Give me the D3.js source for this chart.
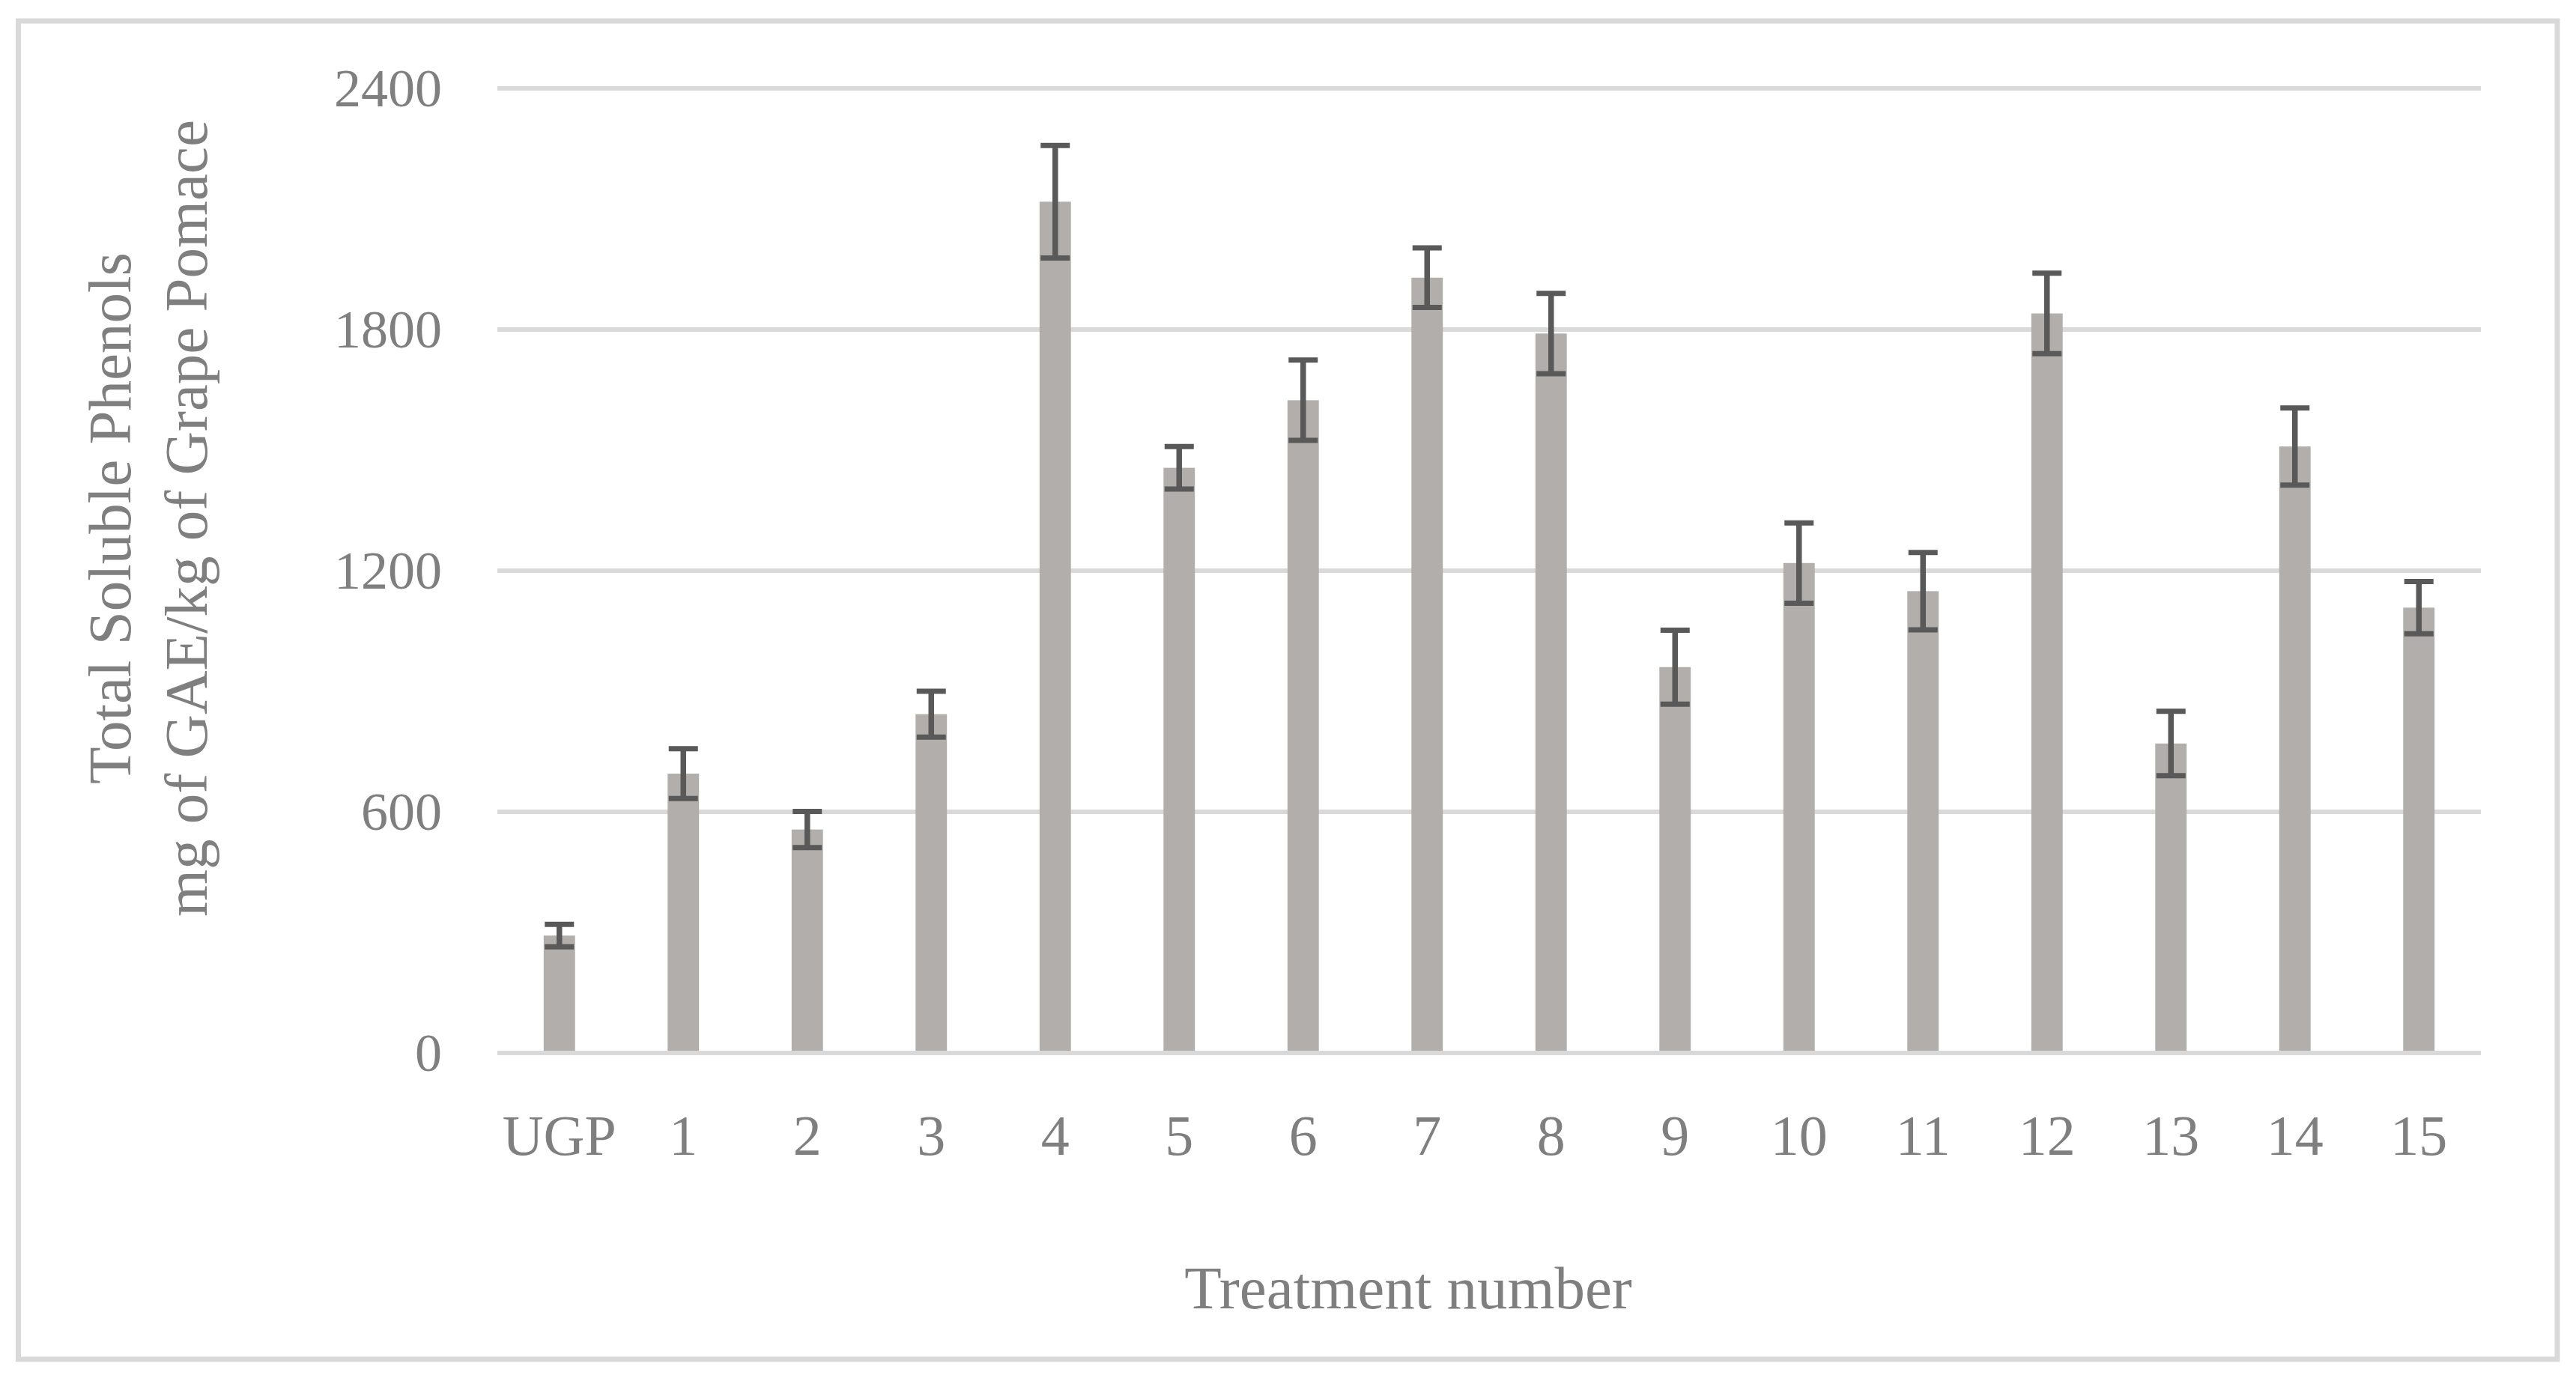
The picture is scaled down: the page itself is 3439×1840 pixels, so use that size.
<!DOCTYPE html>
<html>
<head>
<meta charset="utf-8">
<script src="https://cdn.jsdelivr.net/npm/d3@7/dist/d3.min.js"></script>
<style>
  html, body { margin: 0; padding: 0; background: #ffffff; }
  svg { display: block; }
  text { font-family: "Liberation Serif", "DejaVu Serif", serif; fill: #7f7f7f; }
</style>
</head>
<body>
<svg id="chart" width="3439" height="1840"></svg>
<script>
// ---- data ----
const categories = ["UGP", "1", "2", "3", "4", "5", "6", "7", "8", "9", "10", "11", "12", "13", "14", "15"];
const values = [292, 695, 556, 843, 2118, 1456, 1624, 1929, 1790, 960, 1219, 1149, 1840, 770, 1509, 1108];
const errors = [28, 62, 45, 57, 140, 53, 100, 74, 100, 92, 100, 96, 100, 80, 96, 65];
const yTicks = [0, 600, 1200, 1800, 2400];
const yTitleLines = ["Total Soluble Phenols", "mg of GAE/kg of Grape Pomace"];
const xTitle = "Treatment number";

// ---- layout ----
const W = 3439, H = 1840;
const plot = { left: 664, right: 3312, top: 118, bottom: 1406 };

const svg = d3.select("#chart");

// outer border
svg.append("rect")
  .attr("x", 24.5).attr("y", 28)
  .attr("width", 3414 - 24.5).attr("height", 1815 - 28)
  .attr("fill", "#ffffff")
  .attr("stroke", "#d9d9d9").attr("stroke-width", 7);

const x = d3.scaleBand().domain(categories).range([plot.left, plot.right]).paddingInner(0.747).paddingOuter(0.3735);
const y = d3.scaleLinear().domain([0, 2400]).range([plot.bottom, plot.top]);

// gridlines (excluding zero)
svg.append("g").selectAll("line")
  .data(yTicks.filter(d => d !== 0))
  .join("line")
  .attr("x1", plot.left).attr("x2", plot.right)
  .attr("y1", d => y(d)).attr("y2", d => y(d))
  .attr("stroke", "#d9d9d9").attr("stroke-width", 6);

// bars
svg.append("g").selectAll("rect")
  .data(categories)
  .join("rect")
  .attr("x", d => x(d))
  .attr("width", x.bandwidth())
  .attr("y", (d, i) => y(values[i]))
  .attr("height", (d, i) => y(0) - y(values[i]))
  .attr("fill", "#b1aeac");

// zero axis line
svg.append("line")
  .attr("x1", plot.left).attr("x2", plot.right)
  .attr("y1", y(0)).attr("y2", y(0))
  .attr("stroke", "#d9d9d9").attr("stroke-width", 6);

// error bars
const eb = svg.append("g").attr("stroke", "#595959");
categories.forEach((c, i) => {
  const cx = x(c) + x.bandwidth() / 2;
  const hi = y(values[i] + errors[i]);
  const lo = y(values[i] - errors[i]);
  const capW = 39;
  eb.append("line").attr("x1", cx).attr("x2", cx).attr("y1", hi).attr("y2", lo).attr("stroke-width", 7.5);
  eb.append("line").attr("x1", cx - capW / 2).attr("x2", cx + capW / 2).attr("y1", hi).attr("y2", hi).attr("stroke-width", 7);
  eb.append("line").attr("x1", cx - capW / 2).attr("x2", cx + capW / 2).attr("y1", lo).attr("y2", lo).attr("stroke-width", 7);
});

// y axis tick labels
const yAxis = d3.axisLeft(y).tickValues(yTicks).tickSize(0).tickPadding(0).tickFormat(d3.format("d"));
const gy = svg.append("g").attr("transform", `translate(590,0)`).call(yAxis);
gy.select(".domain").remove();
gy.selectAll("text")
  .attr("font-family", "Liberation Serif, serif")
  .attr("font-size", 72)
  .attr("fill", "#7f7f7f")
  .attr("dy", "0.32em");

// x axis tick labels
const xAxis = d3.axisBottom(x).tickSize(0).tickPadding(0);
const gx = svg.append("g").attr("transform", `translate(0,1542)`).call(xAxis);
gx.select(".domain").remove();
gx.selectAll("text")
  .attr("font-family", "Liberation Serif, serif")
  .attr("font-size", 76)
  .attr("fill", "#7f7f7f")
  .attr("dy", 0)
  .attr("y", 0);

// x axis title
svg.append("text")
  .attr("x", 1880).attr("y", 1747)
  .attr("text-anchor", "middle")
  .attr("font-size", 81)
  .text(xTitle);

// y axis title (two lines, rotated)
const yt = svg.append("text")
  .attr("transform", "translate(0,692) rotate(-90)")
  .attr("text-anchor", "middle")
  .attr("font-size", 81);
yt.append("tspan").attr("x", 0).attr("y", 174).text(yTitleLines[0]);
yt.append("tspan").attr("x", 0).attr("y", 276).text(yTitleLines[1]);
</script>
</body>
</html>
